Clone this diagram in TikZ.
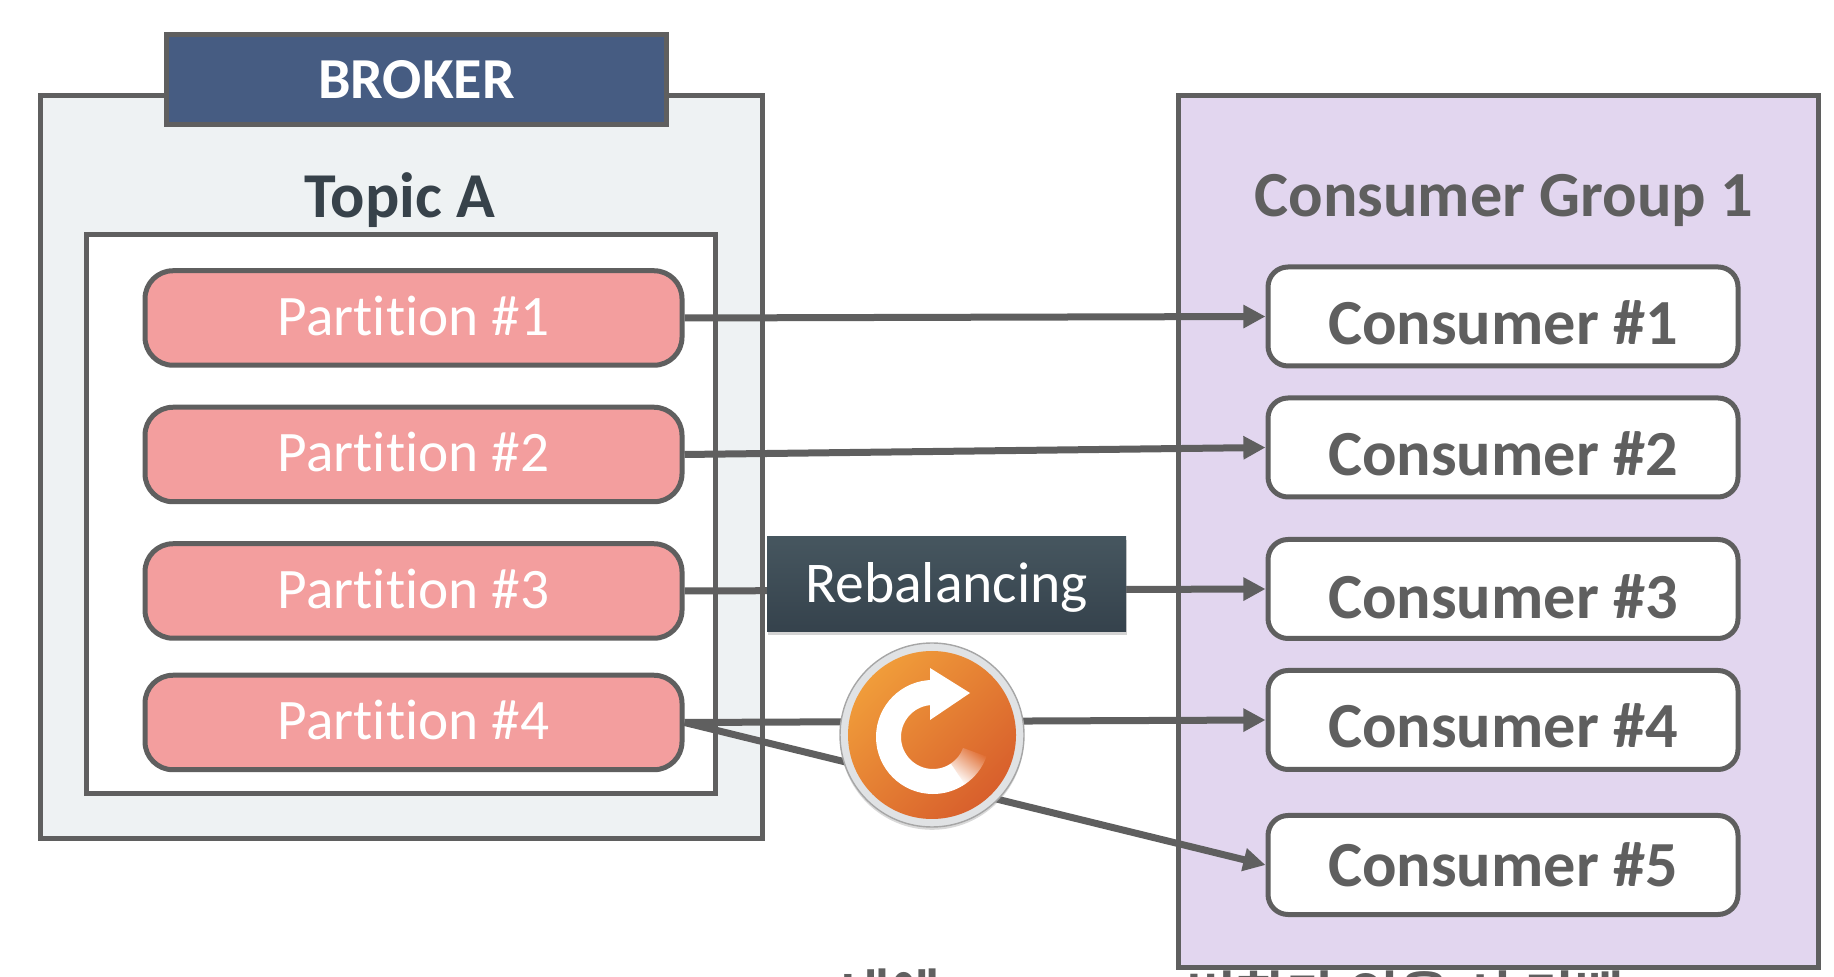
\documentclass[tikz,border=0pt]{standalone}
\usepackage{fontspec}
\setmainfont{Carlito}[Ligatures=CommonOff]
\newfontfamily\kofont{Noto Sans CJK KR}[BoldFont={* Bold}]
\usepackage{xcolor}
\usetikzlibrary{arrows.meta,shadows}
\definecolor{linegray}{HTML}{5F5F5F}
\definecolor{brokerblue}{HTML}{465C82}
\definecolor{brokerpale}{HTML}{EEF2F3}
\definecolor{darktext}{HTML}{37424A}
\definecolor{partred}{HTML}{F39E9E}
\definecolor{grouppurple}{HTML}{E2D6EF}
\definecolor{rebaltop}{HTML}{46565F}
\definecolor{rebalbottom}{HTML}{35424C}
\definecolor{ringgray}{HTML}{E0E2E4}
\definecolor{icontop}{HTML}{F09C3A}
\definecolor{iconbottom}{HTML}{D85F2C}
\definecolor{iconmid}{HTML}{E06E33}
\tikzstyle{outerbox}=[draw=linegray, line width=0.05cm, inner sep=0]
\tikzstyle{partition}=[draw=linegray, line width=0.05cm, fill=partred, rounded corners=0.28cm, minimum width=5.37cm, minimum height=0.945cm, text=white, font=\fontsize{16.3}{18}\selectfont, text height=0.40cm, text depth=0.05cm]
\tikzstyle{consumer}=[draw=linegray, line width=0.05cm, fill=white, rounded corners=0.2cm, minimum width=4.70cm, minimum height=0.99cm, inner ysep=0, text=linegray, font=\fontsize{18.3}{20}\selectfont\bfseries, text height=0.56cm, text depth=0cm]
\tikzstyle{link}=[draw=linegray, line width=0.07cm, -{Triangle[length=6.3pt,width=6.3pt]}]
\tikzstyle{cuttext}=[anchor=north west, inner sep=0, text=linegray, font=\kofont\bfseries\fontsize{15.5}{18}\selectfont]

\begin{document}
\begin{tikzpicture}
\useasboundingbox (0,0) rectangle (18.34,9.76);

% text cut off by the page
\node[cuttext] (cutleft) at (8.40,0.08) {내에};
\node[cuttext] (cutright) at (11.86,0.06) {변화가 있을 시 리밸};

% broker
\node[outerbox, fill=brokerpale, minimum width=7.22cm, minimum height=7.42cm] (brokerbox) at (4.015,5.09) {};
\node[outerbox, fill=brokerblue, minimum width=5.00cm, minimum height=0.90cm, text=white, font=\fontsize{16.5}{20}\selectfont\bfseries] (brokertag) at (4.165,8.965) {BROKER};
\node[text=darktext, font=\fontsize{18.2}{20}\selectfont\bfseries] (topic) at (4.00,7.76) {Topic A};
\node[outerbox, fill=white, minimum width=6.29cm, minimum height=5.59cm] (topicbox) at (4.01,4.615) {};

% consumer group
\node[outerbox, fill=grouppurple, minimum width=6.40cm, minimum height=8.71cm] (groupbox) at (14.98,4.445) {};
\node[text=linegray, font=\fontsize{18.3}{20}\selectfont\bfseries] (grouptitle) at (15.04,7.76) {Consumer Group 1};

% partitions
\node[partition] (p1) at (4.135,6.58) {Partition \#1};
\node[partition] (p2) at (4.135,5.215) {Partition \#2};
\node[partition] (p3) at (4.135,3.85) {Partition \#3};
\node[partition] (p4) at (4.135,2.535) {Partition \#4};

% consumers
\node[consumer] (c1) at (15.03,6.595) {Consumer \#1};
\node[consumer] (c2) at (15.03,5.285) {Consumer \#2};
\node[consumer, text height=0.60cm] (c3) at (15.03,3.87) {Consumer \#3};
\node[consumer] (c4) at (15.03,2.56) {Consumer \#4};
\node[consumer, text height=0.42cm] (c5) at (15.03,1.11) {Consumer \#5};

% links
\draw[link] (p1.east) -- (c1.west);
\draw[link] (p2.east) -- (c2.west);
\draw[link] (p3.east) -- (c3.west);
\draw[link] (p4.east) -- (c4.west);
\draw[link] (p4.east) -- (c5.west);

% rebalancing
\node[top color=rebaltop, bottom color=rebalbottom, minimum width=3.59cm, minimum height=0.95cm, text=white, font=\fontsize{16.4}{20}\selectfont, text height=0.46cm, text depth=0.10cm, drop shadow={shadow xshift=0.4pt, shadow yshift=-0.8pt, opacity=0.35}] (rebal) at (9.465,3.915) {Rebalancing};

% icon
\node[circle, draw=gray!70, line width=0.4pt, fill=ringgray, minimum size=1.84cm, inner sep=0, drop shadow={shadow xshift=0pt, shadow yshift=-0.8pt, opacity=0.3}] (icon) at (9.32,2.41) {};
\shade[left color=icontop, right color=iconbottom, shading angle=45] (icon.center) circle (0.84);
\draw[white, line width=0.25cm] (9.33,2.835) arc[start angle=90, end angle=305, radius=0.445];
\shade[left color=white, right color=iconmid, shading angle=143] ([shift={(9.33,2.39)}]-56:0.32) arc[start angle=-56, end angle=-20, radius=0.32] -- ([shift={(9.33,2.39)}]-20:0.57) arc[start angle=-20, end angle=-56, radius=0.57] -- cycle;
\fill[white] (9.30,3.08) -- (9.70,2.83) -- (9.30,2.56) -- cycle;

\end{tikzpicture}
\end{document}
